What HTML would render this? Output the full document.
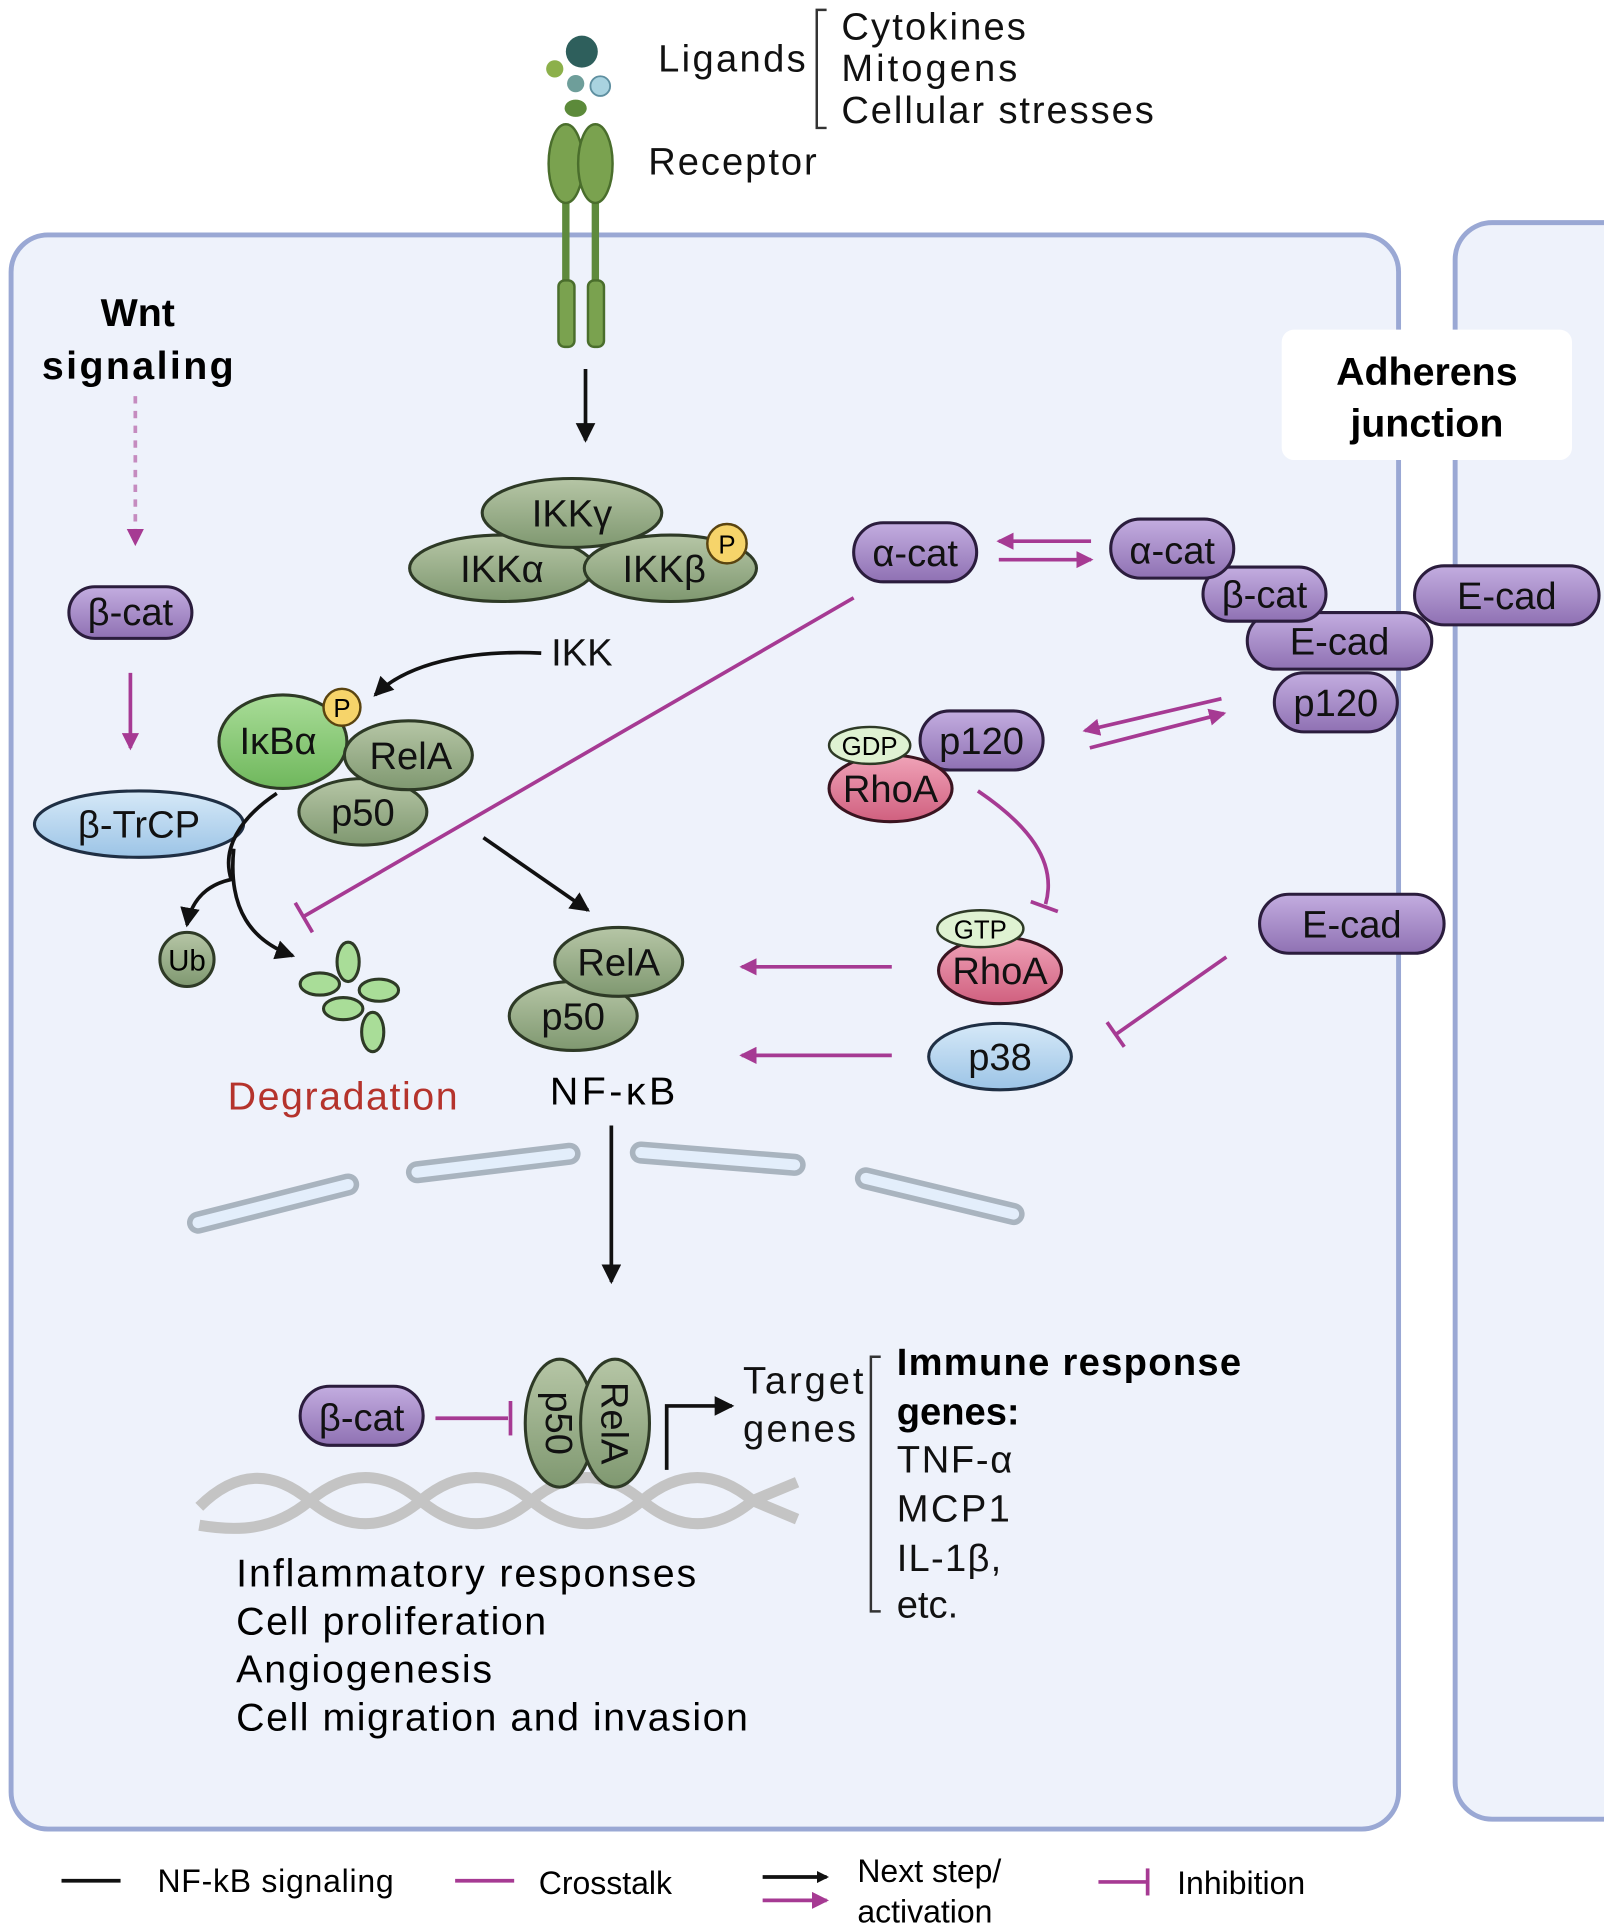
<!DOCTYPE html>
<html><head><style>
html,body{margin:0;padding:0;background:#fff;}
svg{display:block;}
text{font-family:"Liberation Sans","DejaVu Sans",sans-serif;}
</style></head><body>
<svg width="1604" height="1925" viewBox="0 0 1304 1565" xmlns="http://www.w3.org/2000/svg">
<defs>
<marker id="ab" markerWidth="10" markerHeight="10" refX="8" refY="5" orient="auto" markerUnits="userSpaceOnUse"><path d="M0,0 L10,5 L0,10 z" fill="#111"/></marker>
<marker id="am" markerWidth="14" markerHeight="14" refX="12" refY="7" orient="auto" markerUnits="userSpaceOnUse"><path d="M0,0 L14,7 L0,14 z" fill="#a63a93"/></marker>
<marker id="abk" markerWidth="16" markerHeight="16" refX="14" refY="8" orient="auto" markerUnits="userSpaceOnUse"><path d="M0,0 L16,8 L0,16 z" fill="#111"/></marker>
<linearGradient id="pu" x1="0" y1="0" x2="0" y2="1"><stop offset="0" stop-color="#c3ade0"/><stop offset="1" stop-color="#8f71b3"/></linearGradient>
<linearGradient id="gr" x1="0" y1="0" x2="0" y2="1"><stop offset="0" stop-color="#b6c6a6"/><stop offset="1" stop-color="#7f9870"/></linearGradient>
<linearGradient id="lg" x1="0" y1="0" x2="0" y2="1"><stop offset="0" stop-color="#a9dd98"/><stop offset="1" stop-color="#6fb75c"/></linearGradient>
<linearGradient id="bl" x1="0" y1="0" x2="0" y2="1"><stop offset="0" stop-color="#d6e9f8"/><stop offset="1" stop-color="#9cc4e6"/></linearGradient>
<linearGradient id="pk" x1="0" y1="0" x2="0" y2="1"><stop offset="0" stop-color="#f0a3b8"/><stop offset="1" stop-color="#d0607f"/></linearGradient>
</defs>
<style>
.pu{fill:url(#pu);stroke:#2b1d3d;stroke-width:2.5}
.gr{fill:url(#gr);stroke:#2e3a26;stroke-width:2.5}
.lg{fill:url(#lg);stroke:#2e3a26;stroke-width:2.5}
.bl{fill:url(#bl);stroke:#1f2f44;stroke-width:2.5}
.pk{fill:url(#pk);stroke:#3a1420;stroke-width:2.5}
.pg{fill:#dff2d2;stroke:#2e3a26;stroke-width:2}
.py{fill:#f6d46a;stroke:#5a4410;stroke-width:2}
.t{font-size:31px;fill:#111}
.tc{font-size:31px;fill:#111;text-anchor:middle}
.mg{stroke:#a63a93;stroke-width:3;fill:none}
.bk{stroke:#111;stroke-width:3;fill:none}
</style>
<rect x="9" y="191" width="1128" height="1296" rx="30" fill="#eef2fb" stroke="#9aa8d4" stroke-width="4"/>
<rect x="1183" y="181" width="160" height="1298" rx="30" fill="#eef2fb" stroke="#9aa8d4" stroke-width="4"/>
<rect x="1042" y="268" width="236" height="106" rx="10" fill="#fff"/>
<text x="1160" y="313" font-size="32" font-weight="bold" text-anchor="middle">Adherens</text>
<text x="1160" y="355" font-size="32" font-weight="bold" text-anchor="middle">junction</text>

<circle cx="473" cy="42" r="13" fill="#2e5f5c"/>
<circle cx="451" cy="56" r="7" fill="#8cb04a"/>
<circle cx="468" cy="68" r="7" fill="#6e9e9a"/>
<circle cx="488" cy="70" r="8" fill="#a9d3e0" stroke="#5e8fa0" stroke-width="1.5"/>
<ellipse cx="468" cy="88" rx="9" ry="7" fill="#5c8a3a"/>
<text x="535" y="58" class="t" textLength="120">Ligands</text>
<path d="M672,8 H664 V104 H672" stroke="#333" stroke-width="2" fill="none"/>
<text x="684" y="32" class="t" textLength="150">Cytokines</text>
<text x="684" y="66" class="t" textLength="143">Mitogens</text>
<text x="684" y="100" class="t" textLength="254">Cellular stresses</text>
<line x1="460" y1="150" x2="460" y2="235" stroke="#5e8a3c" stroke-width="6"/>
<line x1="484" y1="150" x2="484" y2="235" stroke="#5e8a3c" stroke-width="6"/>
<ellipse cx="460" cy="133" rx="14" ry="32" fill="#7aa24f" stroke="#4a6e2c" stroke-width="2"/>
<ellipse cx="484" cy="133" rx="14" ry="32" fill="#7aa24f" stroke="#4a6e2c" stroke-width="2"/>
<rect x="454" y="228" width="13" height="54" rx="5" fill="#7aa24f" stroke="#4a6e2c" stroke-width="2"/>
<rect x="478" y="228" width="13" height="54" rx="5" fill="#7aa24f" stroke="#4a6e2c" stroke-width="2"/>
<text x="527" y="142" class="t" textLength="137">Receptor</text>
<line x1="476" y1="300" x2="476" y2="358" class="bk" marker-end="url(#abk)"/>

<text x="112" y="265" font-size="32" font-weight="bold" text-anchor="middle">Wnt</text>
<text x="112" y="308" font-size="32" font-weight="bold" text-anchor="middle" textLength="156">signaling</text>
<line x1="110" y1="322" x2="110" y2="442" stroke="#c58bbf" stroke-width="3" stroke-dasharray="6,6" marker-end="url(#am)"/>
<rect x="56" y="477" width="100" height="42" rx="21" class="pu"/>
<text x="106" y="508" class="tc">β-cat</text>
<line x1="106" y1="547" x2="106" y2="608" class="mg" marker-end="url(#am)"/>
<ellipse cx="113" cy="670" rx="85" ry="27" class="bl"/>
<text x="113" y="681" class="tc">β-TrCP</text>

<ellipse cx="408" cy="462" rx="75" ry="27" class="gr"/>
<ellipse cx="545" cy="462" rx="70" ry="27" class="gr"/>
<ellipse cx="465" cy="417" rx="73" ry="28" class="gr"/>
<text x="465" y="428" class="tc">IKKγ</text>
<text x="408" y="473" class="tc">IKKα</text>
<text x="540" y="473" class="tc">IKKβ</text>
<circle cx="591" cy="442" r="16" class="py"/>
<text x="591" y="450" font-size="21" text-anchor="middle">P</text>
<text x="448" y="541" class="t">IKK</text>
<path d="M440,531 C380,528 330,540 305,565" class="bk" stroke-width="3" marker-end="url(#abk)"/>

<ellipse cx="230" cy="603" rx="52" ry="38" class="lg"/>
<ellipse cx="295" cy="660" rx="52" ry="27" class="gr"/>
<ellipse cx="332" cy="614" rx="52" ry="28" class="gr"/>
<text x="226" y="613" class="tc">IκBα</text>
<text x="334" y="625" class="tc">RelA</text>
<text x="295" y="671" class="tc">p50</text>
<circle cx="278" cy="575" r="15" class="py"/>
<text x="278" y="583" font-size="21" text-anchor="middle">P</text>
<path d="M225,645 C195,665 180,690 188,715 C165,720 155,735 152,752" class="bk" marker-end="url(#abk)"/>
<path d="M190,690 C185,740 205,765 238,777" class="bk" marker-end="url(#abk)"/>
<circle cx="152" cy="780" r="22" class="gr"/>
<text x="152" y="789" font-size="24" text-anchor="middle">Ub</text>
<g class="lg" style="fill:#a9dd98">
<ellipse cx="283" cy="782" rx="9" ry="16"/>
<ellipse cx="260" cy="800" rx="16" ry="9"/>
<ellipse cx="308" cy="805" rx="16" ry="9"/>
<ellipse cx="279" cy="820" rx="16" ry="9"/>
<ellipse cx="303" cy="839" rx="9" ry="16"/>
</g>
<text x="185" y="902" font-size="32" fill="#b5332c" textLength="187">Degradation</text>

<line x1="393" y1="681" x2="478" y2="740" class="bk" marker-end="url(#abk)"/>
<ellipse cx="466" cy="826" rx="52" ry="28" class="gr"/>
<ellipse cx="503" cy="782" rx="52" ry="28" class="gr"/>
<text x="503" y="793" class="tc">RelA</text>
<text x="466" y="837" class="tc">p50</text>
<text x="447" y="898" font-size="32" textLength="102">NF-κB</text>

<line x1="694" y1="486" x2="247" y2="745" class="mg"/>
<line x1="240" y1="734" x2="254" y2="758" class="mg"/>

<rect x="694" y="425" width="100" height="48" rx="24" class="pu"/>
<text x="744" y="460" class="tc">α-cat</text>
<line x1="887" y1="440" x2="812" y2="440" class="mg" marker-end="url(#am)"/>
<line x1="812" y1="455" x2="887" y2="455" class="mg" marker-end="url(#am)"/>
<rect x="1150" y="460" width="150" height="48" rx="24" class="pu"/>
<text x="1225" y="495" class="tc">E-cad</text>
<rect x="1036" y="547" width="100" height="48" rx="24" class="pu"/>
<rect x="1014" y="498" width="150" height="46" rx="23" class="pu"/>
<rect x="978" y="461" width="100" height="44" rx="22" class="pu"/>
<rect x="903" y="422" width="100" height="48" rx="24" class="pu"/>
<text x="953" y="458" class="tc">α-cat</text>
<text x="1028" y="494" class="tc">β-cat</text>
<text x="1089" y="532" class="tc">E-cad</text>
<text x="1086" y="582" class="tc">p120</text>

<rect x="748" y="578" width="100" height="48" rx="24" class="pu"/>
<text x="798" y="613" class="tc">p120</text>
<ellipse cx="724" cy="641" rx="50" ry="27" class="pk"/>
<text x="724" y="652" class="tc">RhoA</text>
<ellipse cx="707" cy="606" rx="33" ry="15" class="pg"/>
<text x="707" y="614" font-size="21" text-anchor="middle">GDP</text>
<line x1="993" y1="568" x2="882" y2="594" class="mg" marker-end="url(#am)"/>
<line x1="886" y1="608" x2="995" y2="580" class="mg" marker-end="url(#am)"/>
<path d="M795,643 C835,670 860,700 850,735" class="mg"/>
<line x1="838" y1="733" x2="860" y2="741" class="mg"/>

<ellipse cx="813" cy="789" rx="50" ry="27" class="pk"/>
<text x="813" y="800" class="tc">RhoA</text>
<ellipse cx="797" cy="755" rx="35" ry="15" class="pg"/>
<text x="797" y="763" font-size="21" text-anchor="middle">GTP</text>
<ellipse cx="813" cy="859" rx="58" ry="27" class="bl"/>
<text x="813" y="870" class="tc">p38</text>
<line x1="725" y1="786" x2="603" y2="786" class="mg" marker-end="url(#am)"/>
<line x1="725" y1="858" x2="603" y2="858" class="mg" marker-end="url(#am)"/>
<rect x="1024" y="727" width="150" height="48" rx="24" class="pu"/>
<text x="1099" y="762" class="tc">E-cad</text>
<line x1="997" y1="778" x2="907" y2="841" class="mg"/>
<line x1="900" y1="831" x2="914" y2="851" class="mg"/>

<g stroke-linecap="round" fill="none">
<g stroke="#a9b4bf" stroke-width="18">
<line x1="161" y1="994" x2="283" y2="963"/><line x1="339" y1="953" x2="463" y2="938"/>
<line x1="521" y1="937" x2="646" y2="947"/><line x1="704" y1="958" x2="824" y2="987"/></g>
<g stroke="#e3eefb" stroke-width="9">
<line x1="161" y1="994" x2="283" y2="963"/><line x1="339" y1="953" x2="463" y2="938"/>
<line x1="521" y1="937" x2="646" y2="947"/><line x1="704" y1="958" x2="824" y2="987"/></g>
</g>
<line x1="497" y1="915" x2="497" y2="1042" class="bk" marker-end="url(#abk)"/>

<g fill="none" stroke="#c4c4c4" stroke-width="9">
<path d="M162,1225 C192,1195 222,1195 252,1220 S312,1245 342,1220 S402,1195 432,1220 S492,1245 522,1220 S582,1195 612,1220 L648,1235"/>
<path d="M162,1240 C192,1245 222,1245 252,1220 S312,1195 342,1220 S402,1245 432,1220 S492,1195 522,1220 S582,1245 612,1220 L648,1205"/>
</g>
<ellipse cx="455" cy="1157" rx="28" ry="52" class="gr"/>
<ellipse cx="500" cy="1157" rx="28" ry="52" class="gr"/>
<text transform="translate(444,1157) rotate(90)" class="tc">p50</text>
<text transform="translate(489,1157) rotate(90)" class="tc">RelA</text>
<rect x="244" y="1127" width="100" height="48" rx="24" class="pu"/>
<text x="294" y="1163" class="tc">β-cat</text>
<line x1="354" y1="1153" x2="413" y2="1153" class="mg" stroke-width="4"/>
<line x1="415" y1="1139" x2="415" y2="1167" class="mg" stroke-width="4"/>
<path d="M542,1195 V1143 H595" class="bk" marker-end="url(#abk)"/>
<text x="604" y="1133" class="t" textLength="98">Target</text>
<text x="604" y="1172" class="t" textLength="92">genes</text>
<path d="M716,1103 H708 V1310 H716" stroke="#333" stroke-width="2" fill="none"/>
<text x="729" y="1118" font-size="31" font-weight="bold" textLength="280">Immune response</text>
<text x="729" y="1158" font-size="31" font-weight="bold">genes:</text>
<text x="729" y="1197" class="t" textLength="94">TNF-α</text>
<text x="729" y="1237" class="t" textLength="92">MCP1</text>
<text x="729" y="1277" class="t" textLength="85">IL-1β,</text>
<text x="729" y="1315" class="t">etc.</text>
<text x="192" y="1290" font-size="32" textLength="374">Inflammatory responses</text>
<text x="192" y="1329" font-size="32" textLength="252">Cell proliferation</text>
<text x="192" y="1368" font-size="32" textLength="208">Angiogenesis</text>
<text x="192" y="1407" font-size="32" textLength="416">Cell migration and invasion</text>

<line x1="50" y1="1529" x2="98" y2="1529" stroke="#111" stroke-width="3"/>
<text x="128" y="1538" font-size="26" textLength="192">NF-kB signaling</text>
<line x1="370" y1="1529" x2="418" y2="1529" stroke="#a63a93" stroke-width="3"/>
<text x="438" y="1540" font-size="26">Crosstalk</text>
<line x1="620" y1="1526" x2="672" y2="1526" class="bk" marker-end="url(#ab)"/>
<line x1="620" y1="1545" x2="672" y2="1545" class="mg" marker-end="url(#am)"/>
<text x="697" y="1530" font-size="26">Next step/</text>
<text x="697" y="1563" font-size="26">activation</text>
<line x1="893" y1="1530" x2="933" y2="1530" class="mg"/>
<line x1="933" y1="1519" x2="933" y2="1541" class="mg"/>
<text x="957" y="1540" font-size="26">Inhibition</text>
</svg>
</body></html>
